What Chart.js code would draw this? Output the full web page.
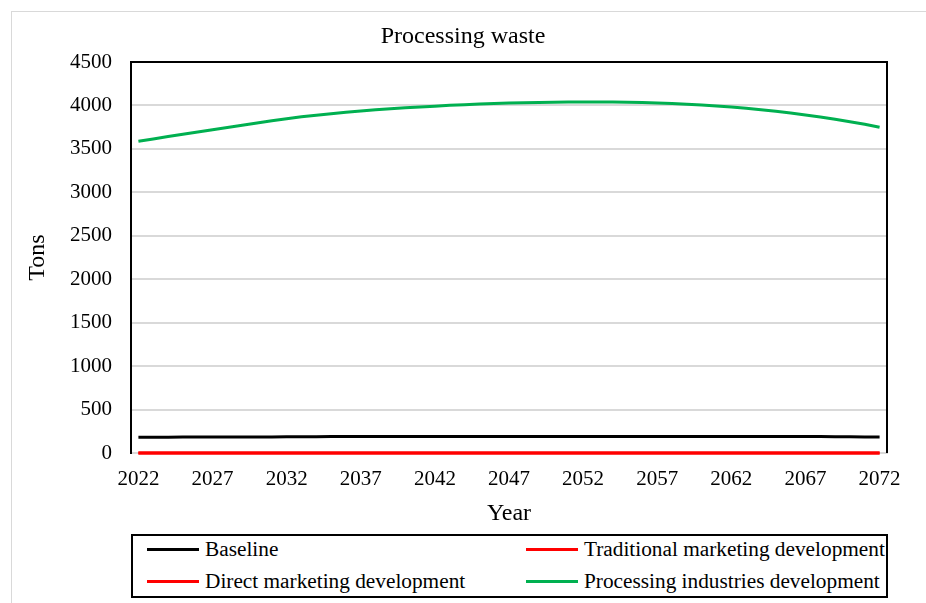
<!DOCTYPE html>
<html>
<head>
<meta charset="utf-8">
<script src="https://cdn.jsdelivr.net/npm/chart.js@4.4.1/dist/chart.umd.min.js"></script>
<style>
  body { margin: 0; background: #fff; }
  #wrap { position: relative; width: 926px; height: 603px; overflow: hidden; }
  #frame { position: absolute; left: 11px; top: 11px; width: 930px; height: 620px; border: 1px solid #d9d9d9; }
  canvas { position: absolute; left: 0; top: 0; }
  #legend {
    position: absolute; left: 131px; top: 534px; width: 753px; height: 60px;
    border: 2px solid #000; background: #fff;
    font-family: "Liberation Serif", "Times New Roman", serif; font-size: 21.3px; color: #000;
  }
  .item { position: absolute; display: flex; align-items: center; height: 28px; white-space: nowrap; }
  .swatch { width: 52px; height: 3px; margin-right: 6px; }
</style>
</head>
<body>
<div id="wrap">
  <div id="frame"></div>
  <canvas id="chart" width="926" height="603"></canvas>
  <div id="legend"></div>
</div>
<script>
const years = [2022, 2023, 2024, 2025, 2026, 2027, 2028, 2029, 2030, 2031,
               2032, 2033, 2034, 2035, 2036, 2037, 2038, 2039, 2040, 2041,
               2042, 2043, 2044, 2045, 2046, 2047, 2048, 2049, 2050, 2051,
               2052, 2053, 2054, 2055, 2056, 2057, 2058, 2059, 2060, 2061,
               2062, 2063, 2064, 2065, 2066, 2067, 2068, 2069, 2070, 2071, 2072];
const yearTicks = [2022, 2027, 2032, 2037, 2042, 2047, 2052, 2057, 2062, 2067, 2072];
const tonTicks = [0, 500, 1000, 1500, 2000, 2500, 3000, 3500, 4000, 4500];

const baseline = [180, 181, 182, 183, 183, 184, 184, 184, 185, 185,
                  186, 187, 188, 189, 189, 190, 190, 190, 190, 190,
                  190, 190, 190, 190, 190, 190, 190, 190, 190, 190,
                  190, 190, 190, 190, 190, 190, 190, 190, 190, 190,
                  190, 190, 190, 190, 190, 190, 189, 188, 186, 185, 185];
const traditional = [0, 0, 0, 0, 0, 0, 0, 0, 0, 0,
                     0, 0, 0, 0, 0, 0, 0, 0, 0, 0,
                     0, 0, 0, 0, 0, 0, 0, 0, 0, 0,
                     0, 0, 0, 0, 0, 0, 0, 0, 0, 0,
                     0, 0, 0, 0, 0, 0, 0, 0, 0, 0, 0];
const direct = [0, 0, 0, 0, 0, 0, 0, 0, 0, 0,
                0, 0, 0, 0, 0, 0, 0, 0, 0, 0,
                0, 0, 0, 0, 0, 0, 0, 0, 0, 0,
                0, 0, 0, 0, 0, 0, 0, 0, 0, 0,
                0, 0, 0, 0, 0, 0, 0, 0, 0, 0, 0];
const processing = [3588, 3615, 3642, 3669, 3695, 3721, 3746, 3771, 3797, 3825,
                    3848, 3869, 3888, 3905, 3921, 3936, 3950, 3962, 3973, 3983,
                    3992, 4001, 4009, 4016, 4022, 4027, 4031, 4034, 4037, 4039,
                    4040, 4040, 4039, 4037, 4034, 4029, 4022, 4014, 4004, 3993,
                    3981, 3967, 3951, 3933, 3913, 3891, 3867, 3841, 3813, 3783, 3748];

const serif = '"Liberation Serif", "Times New Roman", serif';

function pts(vals) {
    return years.map((yr, i) => ({ x: yr, y: vals[i] }));
}

const frameLines = {
    id: 'frameLines',
    afterDatasetsDraw(chart) {
        const a = chart.chartArea;
        const c = chart.ctx;
        c.save();
        c.strokeStyle = '#000';
        c.lineWidth = 2;
        c.beginPath();
        c.moveTo(a.left, a.top);
        c.lineTo(a.right, a.top);
        c.lineTo(a.right, a.bottom);
        c.stroke();
        c.restore();
    }
};

function line(label, vals, color) {
    return { label: label, data: pts(vals), borderColor: color, borderWidth: 3, pointRadius: 0, clip: false };
}

const chart = new Chart(document.getElementById('chart').getContext('2d'), {
    type: 'line',
    data: {
        datasets: [
            line('Baseline', baseline, '#000000'),
            line('Traditional marketing development', traditional, '#ff0000'),
            line('Direct marketing development', direct, '#ff0000'),
            line('Processing industries development', processing, '#00b050')
        ]
    },
    options: {
        responsive: false,
        animation: false,
        layout: { padding: { left: 0, right: 0, top: 0, bottom: 70 } },
        plugins: {
            legend: { display: false },
            tooltip: { enabled: false },
            title: {
                display: true,
                text: 'Processing waste',
                color: '#000',
                font: { family: serif, size: 24, weight: 'normal' },
                padding: { top: 22, bottom: 11.2 }
            }
        },
        scales: {
            x: {
                type: 'linear',
                min: 2021.5,
                max: 2072.5,
                afterFit(s) { s.height = 80; },
                afterBuildTicks(s) { s.ticks = yearTicks.map(v => ({ value: v })); },
                grid: { display: false, drawTicks: false },
                border: { display: true, color: '#d9d9d9', width: 2 },
                ticks: { color: '#000', font: { family: serif, size: 21 }, padding: 14, maxRotation: 0, autoSkip: false, callback: v => String(v) },
                title: { display: true, text: 'Year', color: '#000', font: { family: serif, size: 24 }, padding: { top: 0, bottom: 5 } }
            },
            y: {
                min: 0,
                max: 4500,
                afterFit(s) { s.width = 131; },
                afterBuildTicks(s) { s.ticks = tonTicks.map(v => ({ value: v })); },
                grid: { color: '#d9d9d9', lineWidth: 2, drawTicks: false },
                border: { display: true, color: '#000', width: 2 },
                ticks: { color: '#000', font: { family: serif, size: 21 }, padding: 19, callback: v => String(v) },
                title: { display: true, text: 'Tons', color: '#000', font: { family: serif, size: 24 }, padding: { top: 23.6, bottom: 0 } }
            },
            spacer: {
                axis: 'y',
                type: 'linear',
                position: 'right',
                afterFit(s) { s.width = 39; },
                grid: { display: false, drawTicks: false },
                border: { display: false },
                ticks: { display: false }
            }
        }
    },
    plugins: [frameLines]
});

// legend laid out in two columns like the original
const legendEl = document.getElementById('legend');
const spots = [[14, -1], [393, -1], [14, 31], [393, 31]];
chart.data.datasets.forEach((ds, i) => {
    const item = document.createElement('div');
    item.className = 'item';
    item.style.left = spots[i][0] + 'px';
    item.style.top = spots[i][1] + 'px';
    const sw = document.createElement('span');
    sw.className = 'swatch';
    sw.style.background = ds.borderColor;
    const tx = document.createElement('span');
    tx.textContent = ds.label;
    item.appendChild(sw);
    item.appendChild(tx);
    legendEl.appendChild(item);
});
</script>
</body>
</html>
